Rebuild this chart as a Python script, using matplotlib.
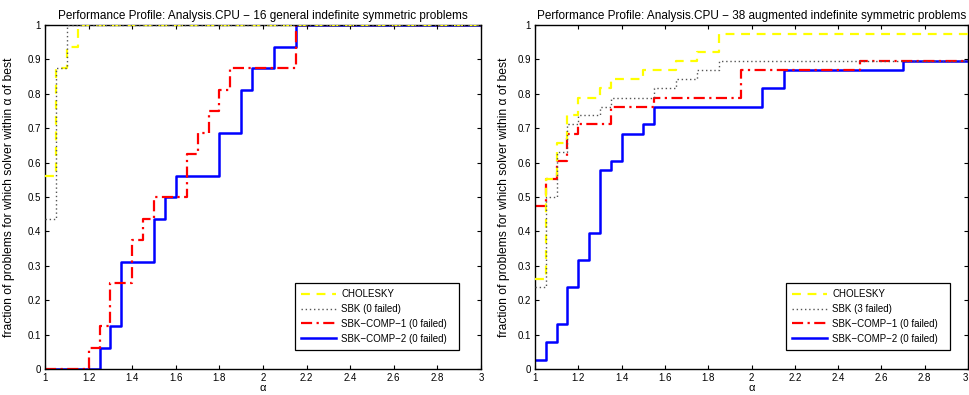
import matplotlib
matplotlib.use("Agg")
import matplotlib.pyplot as plt
from matplotlib.patches import Rectangle

plt.rcParams['font.family'] = ['Liberation Sans', 'DejaVu Sans']

# ---------------- data ----------------
titles = [
    "Performance Profile: Analysis.CPU \u2212 16 general indefinite symmetric problems",
    "Performance Profile: Analysis.CPU \u2212 38 augmented indefinite symmetric problems",
]
legend_labels = [
    ["CHOLESKY", "SBK (0 failed)", "SBK\u2212COMP\u22121 (0 failed)", "SBK\u2212COMP\u22122 (0 failed)"],
    ["CHOLESKY", "SBK (3 failed)", "SBK\u2212COMP\u22121 (0 failed)", "SBK\u2212COMP\u22122 (0 failed)"],
]

# left panel (16 problems): step breakpoints (alpha) and fraction values
l_chol_x = [1.0, 1.05, 1.10, 1.15, 3.0]
l_chol_y = [0.5625, 0.875, 0.9375, 1.0, 1.0]
l_sbk_x = [1.0, 1.05, 1.10, 3.0]
l_sbk_y = [0.4375, 0.875, 1.0, 1.0]
l_c1_x = [1.0, 1.20, 1.25, 1.30, 1.40, 1.45, 1.50, 1.65, 1.70, 1.75, 1.80, 1.85, 2.15, 3.0]
l_c1_y = [0.0, 0.0625, 0.125, 0.25, 0.375, 0.4375, 0.5, 0.625, 0.6875, 0.75, 0.8125, 0.875, 1.0, 1.0]
l_c2_x = [1.0, 1.25, 1.30, 1.35, 1.50, 1.55, 1.60, 1.80, 1.90, 1.95, 2.05, 2.15, 3.0]
l_c2_y = [0.0, 0.0625, 0.125, 0.3125, 0.4375, 0.5, 0.5625, 0.6875, 0.8125, 0.875, 0.9375, 1.0, 1.0]

# right panel (38 problems)
r_chol_x = [1.0, 1.05, 1.10, 1.15, 1.20, 1.30, 1.35, 1.50, 1.65, 1.75, 1.85, 3.0]
r_chol_y = [0.263, 0.553, 0.658, 0.737, 0.789, 0.816, 0.842, 0.868, 0.895, 0.921, 0.974, 0.974]
r_sbk_x = [1.0, 1.05, 1.10, 1.15, 1.20, 1.30, 1.35, 1.55, 1.65, 1.75, 1.85, 3.0]
r_sbk_y = [0.237, 0.500, 0.632, 0.711, 0.737, 0.763, 0.789, 0.816, 0.842, 0.868, 0.895, 0.895]
r_c1_x = [1.0, 1.05, 1.10, 1.15, 1.20, 1.35, 1.55, 1.95, 2.50, 3.0]
r_c1_y = [0.474, 0.553, 0.605, 0.684, 0.711, 0.763, 0.789, 0.868, 0.895, 0.895]
r_c2_x = [1.0, 1.05, 1.10, 1.15, 1.20, 1.25, 1.30, 1.35, 1.40, 1.50, 1.55, 2.05, 2.15, 2.70, 3.0]
r_c2_y = [0.026, 0.079, 0.132, 0.237, 0.316, 0.395, 0.579, 0.605, 0.684, 0.711, 0.763, 0.816, 0.868, 0.895, 0.895]

x_ticks = [1.0, 1.2, 1.4, 1.6, 1.8, 2.0, 2.2, 2.4, 2.6, 2.8, 3.0]
x_tick_labels = ["1", "1.2", "1.4", "1.6", "1.8", "2", "2.2", "2.4", "2.6", "2.8", "3"]
y_ticks = [0.0, 0.1, 0.2, 0.3, 0.4, 0.5, 0.6, 0.7, 0.8, 0.9, 1.0]
y_tick_labels = ["0", "0.1", "0.2", "0.3", "0.4", "0.5", "0.6", "0.7", "0.8", "0.9", "1"]

panels = [
    [(l_chol_x, l_chol_y), (l_sbk_x, l_sbk_y), (l_c1_x, l_c1_y), (l_c2_x, l_c2_y)],
    [(r_chol_x, r_chol_y), (r_sbk_x, r_sbk_y), (r_c1_x, r_c1_y), (r_c2_x, r_c2_y)],
]

styles = [
    dict(color="#ffff00", linestyle=(0, (4, 3)), linewidth=1.6),
    dict(color="#555555", linestyle=(0, (1, 2)), linewidth=1.0),
    dict(color="#ff0000", linestyle=(0, (5, 2, 1, 2)), linewidth=1.6),
    dict(color="#0000ff", linestyle="-", linewidth=1.8),
]

W, H = 969, 395
fig = plt.figure(figsize=(W / 100, H / 100), dpi=100)

axes_px = [(45, 481), (535, 968)]
top_px, bot_px = 25, 369
ylabel_pad = [9, 5]
# legend frame boxes in axes coordinates: (left, bottom, right, top)
legend_boxes = [(0.5734, 0.0552, 0.9495, 0.2500), (0.5797, 0.0552, 0.9584, 0.2500)]

for i, (x0, x1) in enumerate(axes_px):
    ax = fig.add_axes([x0 / W, (H - bot_px) / H, (x1 - x0) / W, (bot_px - top_px) / H])
    zorders = [3, 4, 2, 1]
    for j, (xs, ys) in enumerate(panels[i]):
        ax.plot(xs, ys, drawstyle="steps-post", label=legend_labels[i][j],
                zorder=zorders[j], **styles[j])
    ax.set_xlim(1, 3)
    ax.set_ylim(0, 1)
    ax.set_xticks(x_ticks)
    ax.set_xticklabels(x_tick_labels)
    ax.set_yticks(y_ticks)
    ax.set_yticklabels(y_tick_labels)
    ax.tick_params(direction="in", top=True, right=True, length=3, width=0.8,
                   labelsize=7, pad=3)
    if i == 1:
        ax.get_xticklabels()[-1].set_horizontalalignment("right")
    for s in ax.spines.values():
        s.set_linewidth(1.0)
    ax.set_title(titles[i], fontsize=8.5, pad=4.5)
    ax.set_xlabel("\u03b1", fontsize=8, labelpad=0)
    ax.set_ylabel("fraction of problems for which solver within \u03b1 of best",
                  fontsize=8.7, labelpad=ylabel_pad[i])

    bl, bb, br, bt = legend_boxes[i]
    ax.add_patch(Rectangle((bl, bb), br - bl, bt - bb, transform=ax.transAxes,
                           facecolor="white", edgecolor="black", linewidth=0.9,
                           zorder=5, clip_on=False))
    leg = ax.legend(loc="lower left", bbox_to_anchor=(bl, bb),
                    borderaxespad=0, fontsize=7, handlelength=3.6, frameon=False,
                    borderpad=0.65, labelspacing=0.5, handletextpad=0.5)
    leg.set_zorder(6)

fig.savefig("out.png", dpi=100)
